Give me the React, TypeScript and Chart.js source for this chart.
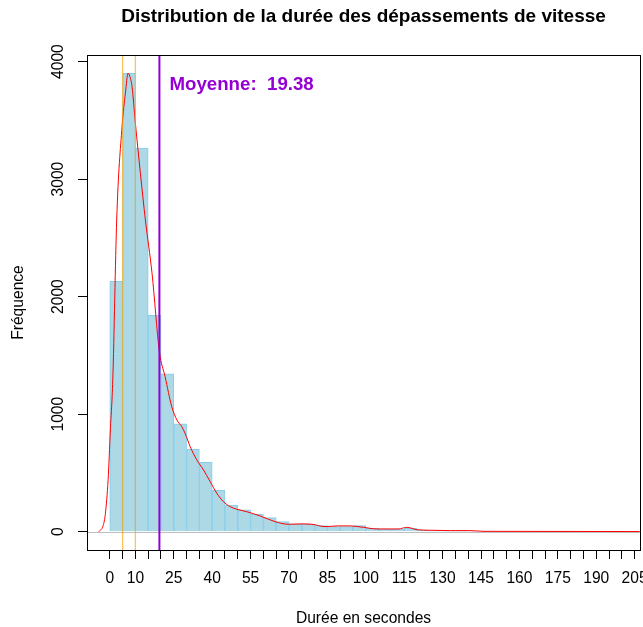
import { useEffect, useRef } from "react";
import { Chart, registerables } from "chart.js";

Chart.register(...registerables);

// ---------- data ----------
const binMids = [
  2.5, 7.5, 12.5, 17.5, 22.5, 27.5, 32.5, 37.5, 42.5, 47.5,
  52.5, 57.5, 62.5, 67.5, 72.5, 77.5, 82.5, 87.5, 92.5, 97.5,
  102.5, 107.5, 112.5, 117.5, 122.5, 127.5, 132.5, 137.5, 142.5, 147.5,
  152.5, 157.5, 162.5, 167.5, 172.5, 177.5, 182.5, 187.5, 192.5, 197.5,
];
const binCounts = [
  2130, 3900, 3265, 1840, 1342, 917, 701, 590, 352, 227,
  185, 148, 119, 85, 65, 65, 51, 43, 43, 51,
  29, 23, 21, 29, 12, 9, 6, 5, 4, 3,
  2, 2, 1, 1, 1, 1, 0, 1, 0, 1,
];

const densX = [
  -4.3, -2.6, -1.7, -0.66, 0.23, 1.17, 2.7, 4.8, 6.1, 7.15, 8.05, 8.7, 10.0, 11.95, 13.9,
  16.5, 19.38, 21.6, 24.2, 26.2, 28.1, 29.4, 31.4, 34.0, 36.6, 39.2, 41.8, 44.4, 47.0,
  49.6, 53.5, 58.7, 64.6, 69.8, 74.3, 78.9, 84.1, 89.3, 93.9, 99.1, 104.3, 109.5, 112.7,
  116.0, 119.9, 125.1, 133.0, 140.8, 145.8, 170, 207,
];
const densY = [
  0, 51, 157, 440, 866, 1291, 2653, 3449, 3731, 3901, 3858, 3787, 3476, 3050, 2653,
  2199, 1532, 1319, 1064, 951, 894, 837, 723, 610, 525, 426, 327, 255, 213,
  191, 170, 134, 85, 63, 66, 63, 43, 49, 49, 37, 23, 23, 23,
  37, 17, 12, 9, 9, 3, 2, 1,
];

const xTickValues = [
  0, 5, 10, 15, 20, 25, 30, 35, 40, 45, 50, 55, 60, 65, 70, 75, 80, 85, 90, 95, 100,
  105, 110, 115, 120, 125, 130, 135, 140, 145, 150, 155, 160, 165, 170, 175, 180, 185,
  190, 195, 200, 205,
];
const xTickLabels = [0, 10, 25, 40, 55, 70, 85, 100, 115, 130, 145, 160, 175, 190, 205];
const yTickValues = [0, 1000, 2000, 3000, 4000];

const markerLines = [5, 10];
const meanValue = 19.38;
const meanLabelY = 3800;

const titleText = "Distribution de la durée des dépassements de vitesse";
const xTitle = "Durée en secondes";
const yTitle = "Fréquence";

const FONT = "'Liberation Sans', Arial, Helvetica, sans-serif";

const overlay = {
  id: "overlay",
  beforeDatasetsDraw(chart: any) {
    const { ctx, chartArea: a, scales } = chart;
    const y0 = Math.round(scales.y.getPixelForValue(0)) + 0.5;
    ctx.save();
    ctx.strokeStyle = "#BEBEBE";
    ctx.lineWidth = 1;
    ctx.beginPath();
    ctx.moveTo(a.left, y0);
    ctx.lineTo(a.right, y0);
    ctx.stroke();
    ctx.restore();
  },
  afterDatasetsDraw(chart: any) {
    const { ctx, chartArea: a, scales } = chart;
    const x = scales.x;
    const y = scales.y;
    ctx.save();
    // orange reference lines
    ctx.strokeStyle = "rgba(255,165,0,0.65)";
    ctx.lineWidth = 1.3;
    for (const v of markerLines) {
      const px = x.getPixelForValue(v);
      ctx.beginPath();
      ctx.moveTo(px, a.top);
      ctx.lineTo(px, a.bottom);
      ctx.stroke();
    }
    // mean line
    const mx = x.getPixelForValue(meanValue);
    ctx.strokeStyle = "#9400D3";
    ctx.lineWidth = 2;
    ctx.beginPath();
    ctx.moveTo(mx, a.top);
    ctx.lineTo(mx, a.bottom);
    ctx.stroke();
    // mean label
    ctx.fillStyle = "#9400D3";
    ctx.font = `bold 18.7px ${FONT}`;
    ctx.textAlign = "left";
    ctx.textBaseline = "middle";
    ctx.fillText("Moyenne:  " + meanValue.toFixed(2), mx + 10, y.getPixelForValue(meanLabelY));
    // box
    ctx.strokeStyle = "#000";
    ctx.lineWidth = 1;
    ctx.strokeRect(Math.round(a.left) + 0.5, Math.round(a.top) + 0.5, Math.round(a.right - a.left), Math.round(a.bottom - a.top));
    ctx.restore();
  },
  afterDraw(chart: any) {
    const { ctx, chartArea: a, scales } = chart;
    const y = scales.y;
    const cx = (a.left + a.right) / 2;
    ctx.save();
    ctx.fillStyle = "#000";
    ctx.textAlign = "center";
    ctx.textBaseline = "middle";
    ctx.font = `bold 19px ${FONT}`;
    ctx.fillText(titleText, cx, 17);
    ctx.font = `15.6px ${FONT}`;
    ctx.fillText(xTitle, cx, 619);
    // y tick labels (rotated, R style)
    for (const v of yTickValues) {
      ctx.save();
      ctx.translate(a.left - 28, y.getPixelForValue(v));
      ctx.rotate(-Math.PI / 2);
      ctx.fillText(String(v), 0, 0);
      ctx.restore();
    }
    ctx.save();
    ctx.translate(19, (a.top + a.bottom) / 2);
    ctx.rotate(-Math.PI / 2);
    ctx.fillText(yTitle, 0, 0);
    ctx.restore();
    ctx.restore();
  },
};

export default function App() {
  const ref = useRef<HTMLCanvasElement>(null);
  useEffect(() => {
    const chart = new Chart(ref.current as HTMLCanvasElement, {
      type: "bar",
      data: {
        datasets: [
          {
            type: "line",
            data: densX.map((v, i) => ({ x: v, y: densY[i] })),
            borderColor: "#FF0000",
            borderWidth: 1,
            pointRadius: 0,
            cubicInterpolationMode: "monotone",
            fill: false,
            order: 0,
          } as any,
          {
            type: "bar",
            data: binMids.map((v, i) => ({ x: v, y: binCounts[i] })),
            backgroundColor: "#ADD8E6",
            borderColor: "#87CEEB",
            borderWidth: 1,
            barPercentage: 1,
            categoryPercentage: 1,
            order: 1,
          } as any,
        ],
      },
      options: {
        responsive: false,
        animation: false,
        devicePixelRatio: 1,
        layout: { padding: { top: 55, right: 3, left: 0, bottom: 0 } },
        plugins: { legend: { display: false }, tooltip: { enabled: false }, title: { display: false } },
        scales: {
          x: {
            type: "linear",
            min: -8.9,
            max: 207.1,
            offset: false,
            afterBuildTicks: (s: any) => {
              s.ticks = xTickValues.map((v) => ({ value: v }));
            },
            afterFit: (s: any) => {
              s.height = 77;
              s.paddingLeft = 0;
              s.paddingRight = 0;
            },
            grid: { drawOnChartArea: false, drawTicks: true, tickLength: 9, color: "#000", offset: false },
            border: { display: false },
            ticks: {
              autoSkip: false,
              maxRotation: 0,
              minRotation: 0,
              padding: 10,
              color: "#000",
              font: { family: FONT, size: 15.6 },
              callback: (v: any) => (xTickLabels.includes(Number(v)) ? String(v) : ""),
            },
          },
          y: {
            type: "linear",
            min: -156,
            max: 4056,
            afterBuildTicks: (s: any) => {
              s.ticks = yTickValues.map((v) => ({ value: v }));
            },
            afterFit: (s: any) => {
              s.width = 87;
              s.paddingTop = 0;
              s.paddingBottom = 0;
            },
            grid: { drawOnChartArea: false, drawTicks: true, tickLength: 9, color: "#000" },
            border: { display: false },
            ticks: { display: false },
          },
        },
      },
      plugins: [overlay],
    } as any);
    return () => chart.destroy();
  }, []);
  return (
    <div style={{ position: "fixed", left: 0, top: 0, width: 643, height: 627, background: "#fff" }}>
      <canvas ref={ref} width={643} height={627} style={{ width: 643, height: 627, display: "block" }} />
    </div>
  );
}
